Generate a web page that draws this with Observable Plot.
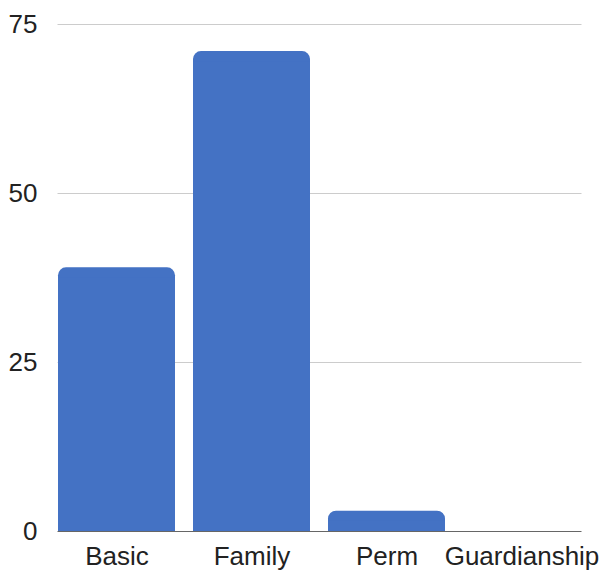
<!DOCTYPE html>
<html>
<head>
<meta charset="utf-8">
<script src="https://cdn.jsdelivr.net/npm/d3@7"></script>
<script src="https://cdn.jsdelivr.net/npm/@observablehq/plot@0.6"></script>
<style>
  html, body { margin: 0; padding: 0; background: #fff; }
  #chart svg { display: block; }
</style>
</head>
<body>
<div id="chart"></div>
<script>
const categories = ["Basic", "Family", "Perm", "Guardianship"];
const values = [39, 71, 3, 0];
const yTicks = [0, 25, 50, 75];

const data = categories.map((c, i) => ({category: c, value: values[i]}));
const barColor = "#4472c4";

const chart = Plot.plot({
  width: 602,
  height: 571,
  marginLeft: 57.5,
  marginRight: 20.5,
  marginTop: 24,
  marginBottom: 40,
  style: {fontFamily: "'Liberation Sans', Arial, sans-serif", fontSize: "26px", color: "#222", background: "#fff", overflow: "visible"},
  x: {domain: categories, paddingInner: 0.133, paddingOuter: 0, label: null},
  y: {domain: [0, 75], label: null},
  marks: [
    Plot.ruleY(yTicks.filter(t => t > 0), {stroke: "#cccccc", strokeWidth: 1}),
    Plot.barY(data, {x: "category", y: "value", fill: barColor, rx: 8}),
    Plot.barY(data, {x: "category", y: "value", fill: barColor, insetTop: 10, filter: d => d.value > 0}),
    Plot.ruleY([0], {stroke: "#666666", strokeWidth: 1}),
    Plot.axisY(yTicks, {tickSize: 0, tickPadding: 20.5, fontSize: 26, fill: "#222"}),
    Plot.axisX({tickSize: 0, tickPadding: 15, fontSize: 26, fill: "#222"})
  ]
});
document.getElementById("chart").appendChild(chart);
</script>
</body>
</html>
